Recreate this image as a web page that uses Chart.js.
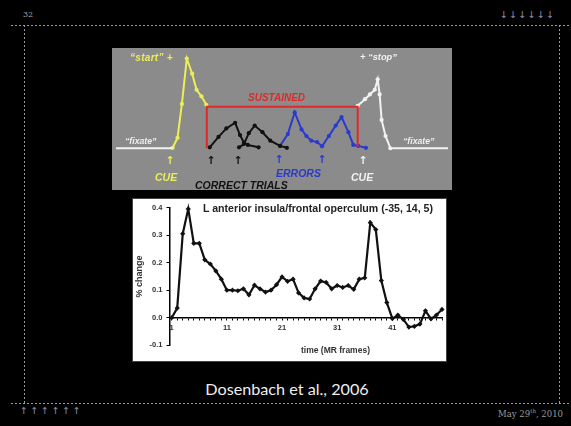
<!DOCTYPE html>
<html><head><meta charset="utf-8">
<script src="https://cdn.jsdelivr.net/npm/chart.js@4.4.1/dist/chart.umd.min.js"></script>
<style>
html,body{margin:0;padding:0;background:#000;width:571px;height:426px;overflow:hidden;position:relative}
.t{position:absolute;white-space:nowrap;line-height:1;transform:translateY(-50%)}
.di{font-family:"Liberation Sans",Arial,sans-serif;font-weight:bold;font-style:italic}
.hd{position:absolute;height:1px;background:repeating-linear-gradient(to right,#9a9a9a 0 2px,transparent 2px 4px)}
.vd{position:absolute;width:1px;background:repeating-linear-gradient(to bottom,#9a9a9a 0 2px,transparent 2px 4px)}
canvas{position:absolute;display:block}
</style></head><body>

<div class="hd" style="left:11px;top:25px;width:560px"></div>
<div class="hd" style="left:11px;top:403px;width:560px"></div>
<div class="vd" style="left:24px;top:25px;height:378px"></div>
<div class="vd" style="left:559px;top:25px;height:378px"></div>

<div class="t" style="left:23px;top:14px;font:8px 'DejaVu Serif',serif;color:#aaa">32</div>
<div class="t" style="left:500px;top:14px;font:9.5px 'DejaVu Sans',sans-serif;color:#8a93b8;letter-spacing:1.3px">↓↓↓↓↓↓</div>
<div class="t" style="left:20px;top:410px;font:9.5px 'DejaVu Sans',sans-serif;color:#8a93b8;letter-spacing:2.6px">↑↑↑↑↑↑</div>
<div class="t" style="right:8px;top:413px;font:8.5px 'DejaVu Serif',serif;color:#9a9a9a">May 29<sup style="font-size:5.5px;vertical-align:4px">th</sup>, 2010</div>
<div class="t" style="left:287px;top:388px;transform:translate(-50%,-50%);font:16.2px Lato,sans-serif;color:#eee">Dosenbach et al., 2006</div>

<canvas id="diag" width="340" height="142" style="left:112px;top:48px;width:340px;height:142px;background:#8b8b8b"></canvas>

<div class="t di" style="left:130px;top:58px;font-size:10px;color:#eded55;letter-spacing:0.3px">“start” +</div>
<div class="t di" style="left:360px;top:58px;font-size:9.3px;color:#f2f2f2">+ “stop”</div>
<div class="t di" style="left:248px;top:98px;font-size:10px;color:#e02a2a">SUSTAINED</div>
<div class="t di" style="left:125px;top:141px;font-size:8.7px;color:#eeeeee">“fixate”</div>
<div class="t di" style="left:403px;top:141px;font-size:8.7px;color:#eeeeee">“fixate”</div>
<div class="t di" style="left:155px;top:177px;font-size:10.5px;color:#eded55">CUE</div>
<div class="t di" style="left:276px;top:172.5px;font-size:10.5px;color:#2a3acc">ERRORS</div>
<div class="t di" style="left:351px;top:177px;font-size:10.5px;color:#f2f2f2">CUE</div>
<div class="t di" style="left:195px;top:185px;font-size:10.5px;color:#111">CORRECT TRIALS</div>
<div class="t" style="left:170px;top:160px;transform:translate(-50%,-50%);font:bold 11px 'DejaVu Sans',sans-serif;color:#eded55">↑</div>
<div class="t" style="left:211px;top:160px;transform:translate(-50%,-50%);font:bold 11px 'DejaVu Sans',sans-serif;color:#111">↑</div>
<div class="t" style="left:238px;top:160px;transform:translate(-50%,-50%);font:bold 11px 'DejaVu Sans',sans-serif;color:#111">↑</div>
<div class="t" style="left:279px;top:159px;transform:translate(-50%,-50%);font:bold 11px 'DejaVu Sans',sans-serif;color:#2a3acc">↑</div>
<div class="t" style="left:322px;top:159px;transform:translate(-50%,-50%);font:bold 11px 'DejaVu Sans',sans-serif;color:#2a3acc">↑</div>
<div class="t" style="left:363px;top:160px;transform:translate(-50%,-50%);font:bold 11px 'DejaVu Sans',sans-serif;color:#f2f2f2">↑</div>

<div style="position:absolute;left:133px;top:199px;width:313px;height:162px;background:#fff;box-shadow:0 0 0 1px #444"></div>
<canvas id="main" width="313" height="162" style="left:133px;top:199px;width:313px;height:162px"></canvas>
<div class="t" style="left:203px;top:207.5px;font:bold 10.6px 'Liberation Sans',Arial,sans-serif;color:#222">L anterior insula/frontal operculum (-35, 14, 5)</div>
<div class="t" style="left:301px;top:350px;font:bold 8.5px 'Liberation Sans',Arial,sans-serif;color:#333">time (MR frames)</div>

<script>
// ---- main chart data ----
const frames = [1,2,3,4,5,6,7,8,9,10,11,12,13,14,15,16,17,18,19,20,21,22,23,24,25,26,27,28,29,30,31,32,33,34,35,36,37,38,39,40,41,42,43,44,45,46,47,48,49,50];
const pctChange = [0.0,0.035,0.305,0.395,0.27,0.27,0.21,0.195,0.17,0.14,0.10,0.10,0.098,0.105,0.083,0.118,0.105,0.093,0.10,0.12,0.148,0.132,0.14,0.09,0.072,0.068,0.105,0.133,0.128,0.105,0.117,0.11,0.117,0.103,0.14,0.145,0.345,0.32,0.135,0.055,-0.003,0.01,-0.006,-0.034,-0.031,-0.023,0.025,-0.004,0.01,0.03];
const yTickValues = [-0.1,0.0,0.1,0.2,0.3,0.4];
const xTickLabels = [1,11,21,31,41];

// ---- diagram data (x, y pairs) ----
const fixateLeft = [[0,40],[58,40]];
const startCurve = [[58,40.5],[63,51],[67.5,87],[72.5,135],[78,119],[82.5,102],[87.5,95],[92.5,86]];
const sustained = [[93,40],[93,84],[247.5,84],[247.5,41.5]];
const correct1 = [[96,41],[105,52],[113,61],[122,67],[127,54],[131,46],[135,43.5],[146,41]];
const correct2 = [[126,41],[131,44.5],[136,56],[142,64],[150,57],[158,48],[168,42.5],[175,40.5]];
const errorsCurve = [[168,42.5],[176,55],[183,78],[190,60],[195,53],[200,48],[206,46.5],[211,42],[218,53],[225,64],[231,73],[238,57],[243,43.5],[248,42.5],[256,40.5]];
const stopCurve = [[247.5,85],[255,92],[260,97],[265,102],[268,113],[270,97],[272,70],[276,53],[281,40],[340,40]];

const toXY = arr => arr.map(p => ({x:p[0], y:p[1]}));
function ds(arr, color, pts, w){
  return {data: toXY(arr), showLine:true, borderColor:color, backgroundColor:color,
    borderWidth: w||2, tension:0,
    pointRadius: pts ? (c => (pts === 'nolast' && c.dataIndex === arr.length-1) ? 0 : 2.1) : 0,
    pointBorderWidth:0, pointBackgroundColor: color, clip:false};
}
new Chart(document.getElementById('diag'), {
  type:'scatter',
  data:{datasets:[
    ds(fixateLeft,'#f2f2f2',false,2),
    ds(sustained,'#e02a2a',false,2),
    ds(startCurve,'#eded55',true),
    ds(correct1,'#111111',true),
    ds(correct2,'#111111',true),
    ds(errorsCurve,'#2a3acc',true),
    ds(stopCurve,'#f2f2f2','nolast',2)
  ]},
  options:{responsive:false, animation:false, devicePixelRatio:1,
    layout:{padding:0},
    plugins:{legend:{display:false}, tooltip:{enabled:false}},
    scales:{
      x:{type:'linear', min:0, max:340, display:false},
      y:{type:'linear', min:0, max:142, display:false}
    }}
});

const tickFont = {family:"'Liberation Sans', Arial, sans-serif", size:7.5, weight:'bold'};
new Chart(document.getElementById('main'), {
  type:'scatter',
  data:{datasets:[{
    data: frames.map((f,i) => ({x:f, y:pctChange[i]})),
    showLine:true, borderColor:'#111', borderWidth:2.2, tension:0,
    pointStyle:'rectRot', pointRadius:2.6, pointBorderWidth:0, pointBackgroundColor:'#111',
    clip:false
  }]},
  options:{responsive:false, animation:false, devicePixelRatio:1,
    layout:{padding:{left:0, right:0.5, top:6, bottom:15.7}},
    plugins:{legend:{display:false}, tooltip:{enabled:false}},
    scales:{
      x:{type:'linear', position:{y:0}, min:0.6, max:50,
        afterFit: s => { s.height = 0; },
        afterBuildTicks: s => { s.ticks = frames.map(v => ({value:v})); },
        ticks:{autoSkip:false, maxRotation:0, font:tickFont, color:'#333', padding:4,
          callback: v => xTickLabels.includes(v) ? String(v) : ''},
        grid:{drawOnChartArea:false, drawTicks:true, tickLength:2, color:'#000', lineWidth:1},
        border:{display:true, color:'#000', width:1.5}
      },
      y:{type:'linear', min:-0.1, max:0.4,
        afterFit: s => { s.width = 36.5; },
        afterBuildTicks: s => { s.ticks = yTickValues.map(v => ({value:v})); },
        ticks:{font:tickFont, color:'#333', padding:4, callback: v => v.toFixed(1)},
        grid:{drawOnChartArea:false, drawTicks:true, tickLength:3, color:'#000', lineWidth:1},
        border:{display:true, color:'#000', width:1.5},
        title:{display:true, text:'% change', color:'#333', font:{family:"'Liberation Sans', Arial, sans-serif", size:9, weight:'bold'}, padding:{top:1.5, bottom:0}}
      }
    }}
});
</script>
</body></html>
